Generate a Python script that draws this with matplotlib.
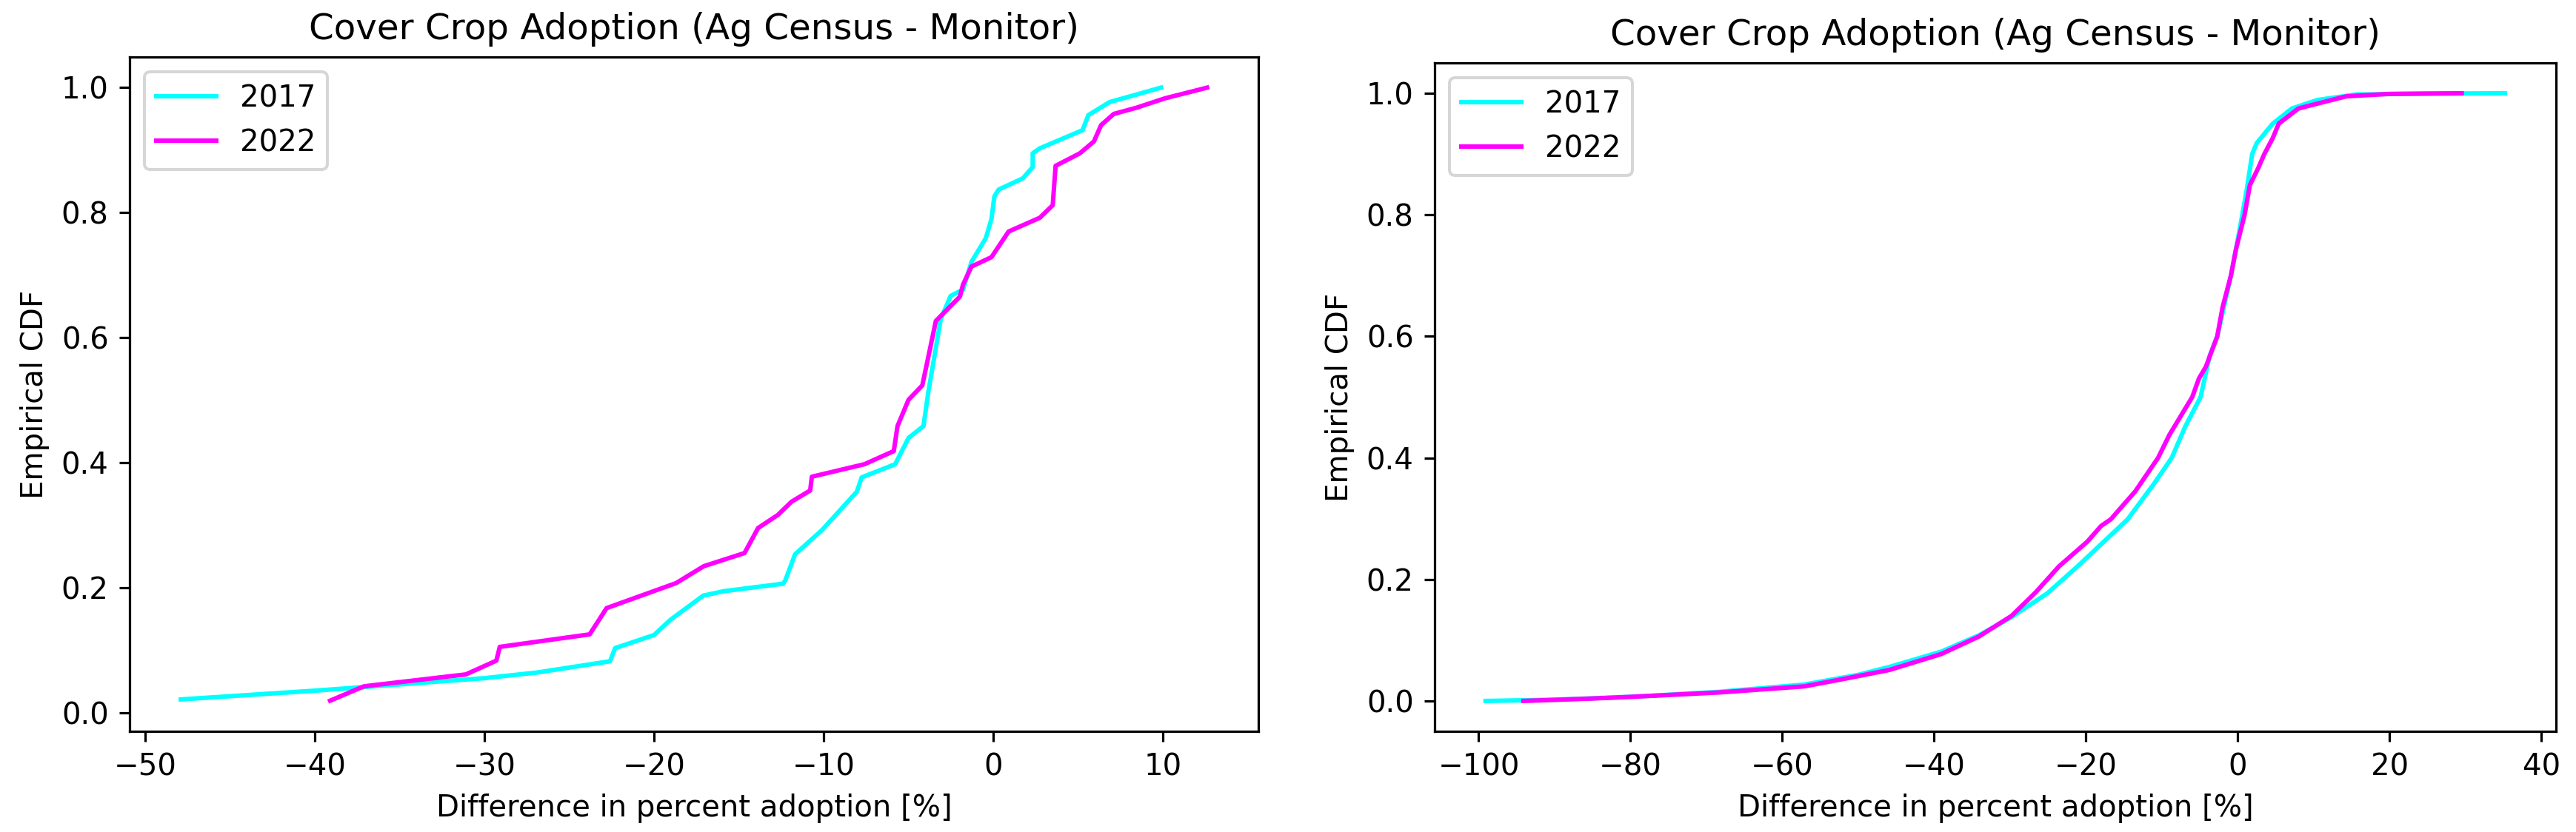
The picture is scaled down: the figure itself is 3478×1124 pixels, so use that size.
import matplotlib
matplotlib.use("Agg")
import matplotlib.pyplot as plt

# left panel: county level differences (x, empirical cdf)
left_2017_x = [-47.9, -40.0, -30.0, -26.9, -22.6, -22.3, -20.0, -19.05, -17.1, -15.9,
               -12.4, -12.27, -11.69, -10.09, -8.05, -7.76, -5.79, -5.0, -4.12, -3.83,
               -3.1, -2.52, -1.79, -1.28, -0.45, -0.11, 0.06, 0.31, 1.74, 2.32,
               2.32, 2.74, 5.26, 5.6, 6.86, 8.45, 9.88]
left_2017_y = [0.022, 0.036, 0.056, 0.065, 0.083, 0.104, 0.125, 0.149, 0.188, 0.195,
               0.207, 0.212, 0.254, 0.293, 0.354, 0.377, 0.398, 0.440, 0.459, 0.514,
               0.630, 0.667, 0.677, 0.722, 0.759, 0.790, 0.826, 0.837, 0.855, 0.873,
               0.895, 0.903, 0.932, 0.956, 0.977, 0.989, 1.0]

left_2022_x = [-39.1, -37.1, -31.1, -29.3, -29.1, -23.8, -22.8, -18.7, -17.07, -14.67,
               -13.87, -12.7, -11.9, -10.8, -10.7, -7.6, -5.87, -5.65, -5.0, -4.19,
               -3.9, -3.39, -1.97, -1.79, -1.29, -0.11, 0.9, 2.74, 3.5, 3.67,
               5.1, 5.93, 6.35, 7.1, 8.45, 10.13, 12.6]
left_2022_y = [0.020, 0.043, 0.062, 0.084, 0.106, 0.126, 0.168, 0.208, 0.235, 0.256,
               0.296, 0.317, 0.338, 0.356, 0.378, 0.398, 0.419, 0.459, 0.501, 0.524,
               0.561, 0.627, 0.666, 0.685, 0.714, 0.729, 0.770, 0.792, 0.812, 0.875,
               0.895, 0.914, 0.940, 0.958, 0.968, 0.983, 1.0]

# right panel
right_2017_x = [-99.1, -90.0, -79.5, -68.3, -57.1, -50.0, -45.9, -39.1, -34.1, -29.8,
                -25.1, -21.1, -17.65, -14.5, -11.0, -8.7, -6.9, -4.9, -3.7, -2.7,
                -1.8, -0.9, -0.24, 0.6, 1.23, 1.9, 2.5, 4.6, 7.14, 10.5,
                15.6, 25.0, 35.2]
right_2017_y = [0.0, 0.002, 0.007, 0.015, 0.027, 0.043, 0.056, 0.081, 0.108, 0.138,
                0.177, 0.2215, 0.262, 0.299, 0.358, 0.40, 0.452, 0.50, 0.568, 0.60,
                0.65, 0.70, 0.743, 0.80, 0.845, 0.90, 0.918, 0.950, 0.975, 0.989,
                0.998, 0.9995, 1.0]

right_2022_x = [-94.1, -85.0, -79.5, -68.3, -57.1, -52.0, -45.9, -39.1, -34.1, -29.8,
                -26.6, -23.55, -19.83, -18.0, -16.72, -13.5, -10.5, -9.0, -6.0, -5.1,
                -4.2, -2.7, -2.0, -0.9, -0.24, 0.9, 1.6, 2.7, 3.5, 4.6,
                5.4, 8.0, 10.5, 14.3, 20.0, 29.5]
right_2022_y = [0.0, 0.004, 0.007, 0.014, 0.024, 0.036, 0.051, 0.077, 0.106, 0.140,
                0.179, 0.2215, 0.262, 0.288, 0.299, 0.345, 0.40, 0.438, 0.50, 0.531,
                0.55, 0.60, 0.648, 0.70, 0.743, 0.80, 0.849, 0.877, 0.90, 0.926,
                0.95, 0.975, 0.983, 0.995, 0.999, 1.0]

years = ["2017", "2022"]
colors = ["cyan", "magenta"]
title = "Cover Crop Adoption (Ag Census - Monitor)"

fig = plt.figure(figsize=(3478 / 290, 1124 / 290), dpi=290)
ax1 = fig.add_axes([0.0503, 0.121, 0.4382, 0.8105])
ax2 = fig.add_axes([0.5569, 0.121, 0.4353, 0.8034])

panels = [(ax1, [(left_2017_x, left_2017_y), (left_2022_x, left_2022_y)]),
          (ax2, [(right_2017_x, right_2017_y), (right_2022_x, right_2022_y)])]

for ax, series in panels:
    for (xs, ys), yr, c in zip(series, years, colors):
        ax.plot(xs, ys, color=c, label=yr)
    ax.set_title(title)
    ax.set_xlabel("Difference in percent adoption [%]")
    ax.set_ylabel("Empirical CDF")
    ax.legend(loc="upper left")

fig.savefig("out.png", dpi=290)
